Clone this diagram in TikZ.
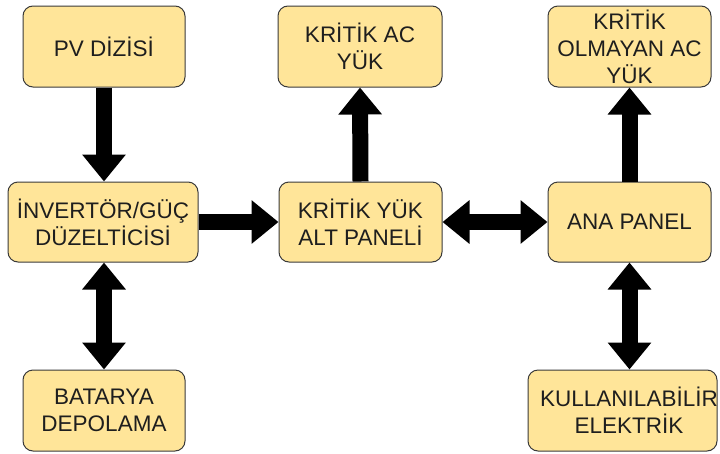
\documentclass[tikz,border=0pt]{standalone}
\usepackage{fontspec}
\setmainfont{Liberation Sans}
\usetikzlibrary{arrows.meta}
\definecolor{boxfill}{HTML}{FFE599}
\definecolor{boxline}{HTML}{3A3A3A}
\definecolor{txt}{HTML}{1E1E1E}
\tikzset{
  labelfont/.style={font=\fontsize{22.5}{27}\selectfont},
  block/.style={draw=boxline, line width=1pt, fill=boxfill, rounded corners=10pt,
    text=txt, align=center, inner sep=0pt, labelfont},
  flow/.style={line width=16pt, -{Triangle[width=42pt,length=27pt]}},
  flow2/.style={line width=16pt, {Triangle[width=42pt,length=27pt]}-{Triangle[width=42pt,length=27pt]}},
}
\begin{document}
\begin{tikzpicture}[x=1pt,y=-1pt]
\useasboundingbox (0,0) rectangle (720,453);
\begin{scope}
\clip (0,0) rectangle (720,453);
% top row
\node[block, minimum width=162pt, minimum height=81pt] (pv) at (104,46.5) {PV DİZİSİ};
\node[block, minimum width=164pt, minimum height=81pt] (kac) at (360,46.5) {KRİTİK AC\\YÜK};
\node[block, minimum width=163pt, minimum height=81pt] (koac) at (629.5,46.5) {KRİTİK\\OLMAYAN AC\\YÜK};
% middle row
\node[block, minimum width=190pt, minimum height=80pt] (inv) at (103,222) {İNVERTÖR/GÜÇ\\DÜZELTİCİSİ};
\node[block, minimum width=163pt, minimum height=80pt] (kyap) at (360.5,222) {KRİTİK YÜK\\ALT PANELİ};
\node[block, minimum width=163pt, minimum height=80pt] (ana) at (629.5,222) {ANA PANEL};
% bottom row
\node[block, minimum width=162pt, minimum height=81pt] (bat) at (104,410.5) {BATARYA\\DEPOLAMA};
\node[block, minimum width=189pt, minimum height=81pt] (kull) at (622.5,410.5) {};
\node[text=txt, align=center, labelfont] (kulltxt) at (629,410.5) {KULLANILABİLİR\\ELEKTRİK};
\end{scope}
% connectors
\draw[flow] (pv.south) -- (pv.south |- inv.north);
\draw[flow2] (inv.south -| pv.south) -- (bat.north);
\draw[flow] (inv.east) -- (kyap.west);
\draw[flow] (kyap.north) -- (kac.south);
\draw[flow2] (kyap.east) -- (ana.west);
\draw[flow] (ana.north) -- (ana.north |- koac.south);
\draw[flow2] (ana.south) -- (ana.south |- kull.north);
\end{tikzpicture}
\end{document}
